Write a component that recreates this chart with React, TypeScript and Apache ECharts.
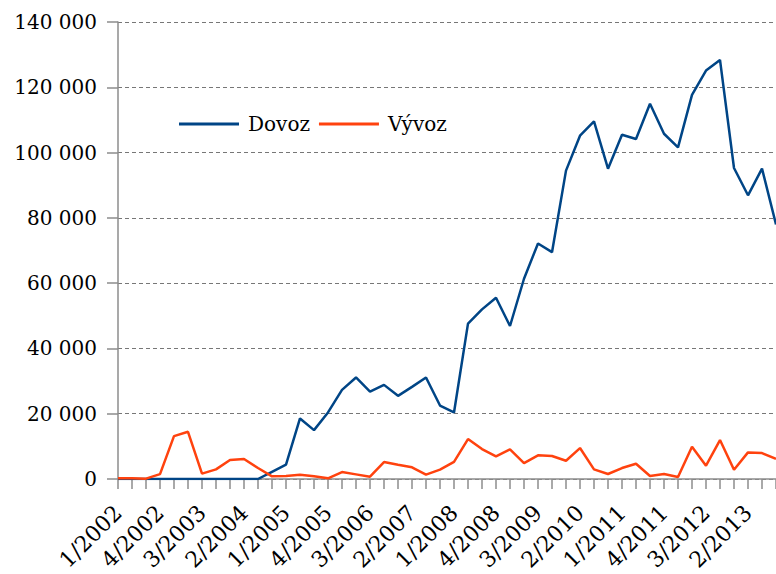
import React, { useEffect, useRef } from "react";
import * as echarts from "echarts";

const categories = [
  "1/2002", "2/2002", "3/2002", "4/2002",
  "1/2003", "2/2003", "3/2003", "4/2003",
  "1/2004", "2/2004", "3/2004", "4/2004",
  "1/2005", "2/2005", "3/2005", "4/2005",
  "1/2006", "2/2006", "3/2006", "4/2006",
  "1/2007", "2/2007", "3/2007", "4/2007",
  "1/2008", "2/2008", "3/2008", "4/2008",
  "1/2009", "2/2009", "3/2009", "4/2009",
  "1/2010", "2/2010", "3/2010", "4/2010",
  "1/2011", "2/2011", "3/2011", "4/2011",
  "1/2012", "2/2012", "3/2012", "4/2012",
  "1/2013", "2/2013", "3/2013", "4/2013",
];

const dovoz = [
  0, 0, 0, 0, 0, 0, 0, 0, 0, 0, 0, 2200,
  4400, 18550, 14980, 20400, 27300, 31100, 26800, 28830, 25470, 28220, 31090, 22500,
  20390, 47600, 51970, 55540, 46870, 61350, 72150, 69490, 94460, 105160, 109540, 95070,
  105470, 104140, 114940, 105770, 101590, 117690, 125120, 128390, 95280, 86910, 95070, 78000,
];

const vyvoz = [
  200, 200, 100, 1500, 13150, 14460, 1630, 2950, 5800, 6110, 3360, 820,
  920, 1320, 810, 200, 2140, 1420, 710, 5200, 4380, 3570, 1320, 2850,
  5250, 12230, 9170, 6930, 9070, 4890, 7240, 7030, 5600, 9480, 2950, 1530,
  3360, 4690, 920, 1530, 610, 9890, 4080, 11920, 2850, 8150, 7950, 6200,
];

const seriesNames = ["Dovoz", "Vývoz"];
const colors = ["#004586", "#ff420e"];

const FONT = "DejaVu Serif";

function fmt(v: number): string {
  return String(v).replace(/\B(?=(\d{3})+(?!\d))/g, " ");
}

export default function App() {
  const ref = useRef<HTMLDivElement>(null);
  useEffect(() => {
    if (!ref.current) return;
    const chart = echarts.init(ref.current, undefined, { renderer: "svg" });
    chart.setOption({
      animation: false,
      backgroundColor: "#ffffff",
      grid: { left: 118, right: -2, top: 22, bottom: 95, containLabel: false },
      legend: {
        data: seriesNames,
        left: 179,
        top: 114,
        padding: 0,
        icon: "rect",
        itemWidth: 60,
        itemHeight: 3,
        itemGap: 9,
        textStyle: {
          fontFamily: FONT,
          fontSize: 20,
          color: "#000",
          padding: [0, 0, 0, 4],
        },
      },
      xAxis: {
        type: "category",
        data: categories,
        boundaryGap: false,
        axisLine: { lineStyle: { color: "#8c8c8c", width: 1.5 } },
        axisTick: { show: true, interval: 0, length: 10, lineStyle: { color: "#8c8c8c", width: 1.5 } },
        axisLabel: {
          interval: 2,
          rotate: 45,
          margin: 30,
          fontFamily: FONT,
          fontSize: 22,
          color: "#000",
        },
        splitLine: { show: false },
      },
      yAxis: {
        type: "value",
        min: 0,
        max: 140000,
        interval: 20000,
        axisLine: { show: true, lineStyle: { color: "#8c8c8c", width: 1.5 } },
        axisTick: { show: true, length: 11, lineStyle: { color: "#8c8c8c", width: 1.5 } },
        axisLabel: {
          margin: 21,
          fontFamily: FONT,
          fontSize: 20,
          color: "#000",
          formatter: (v: number) => fmt(v),
        },
        splitLine: { show: true, lineStyle: { color: "#777777", type: [4, 3], width: 1 } },
      },
      series: [
        {
          name: seriesNames[0],
          type: "line",
          data: dovoz,
          symbol: "none",
          lineStyle: { color: colors[0], width: 2.5 },
          itemStyle: { color: colors[0] },
        },
        {
          name: seriesNames[1],
          type: "line",
          data: vyvoz,
          symbol: "none",
          lineStyle: { color: colors[1], width: 2.5 },
          itemStyle: { color: colors[1] },
        },
      ],
    });
    return () => chart.dispose();
  }, []);
  return (
    <div
      ref={ref}
      style={{ position: "fixed", left: 0, top: 0, width: 776, height: 574, background: "#fff" }}
    />
  );
}
